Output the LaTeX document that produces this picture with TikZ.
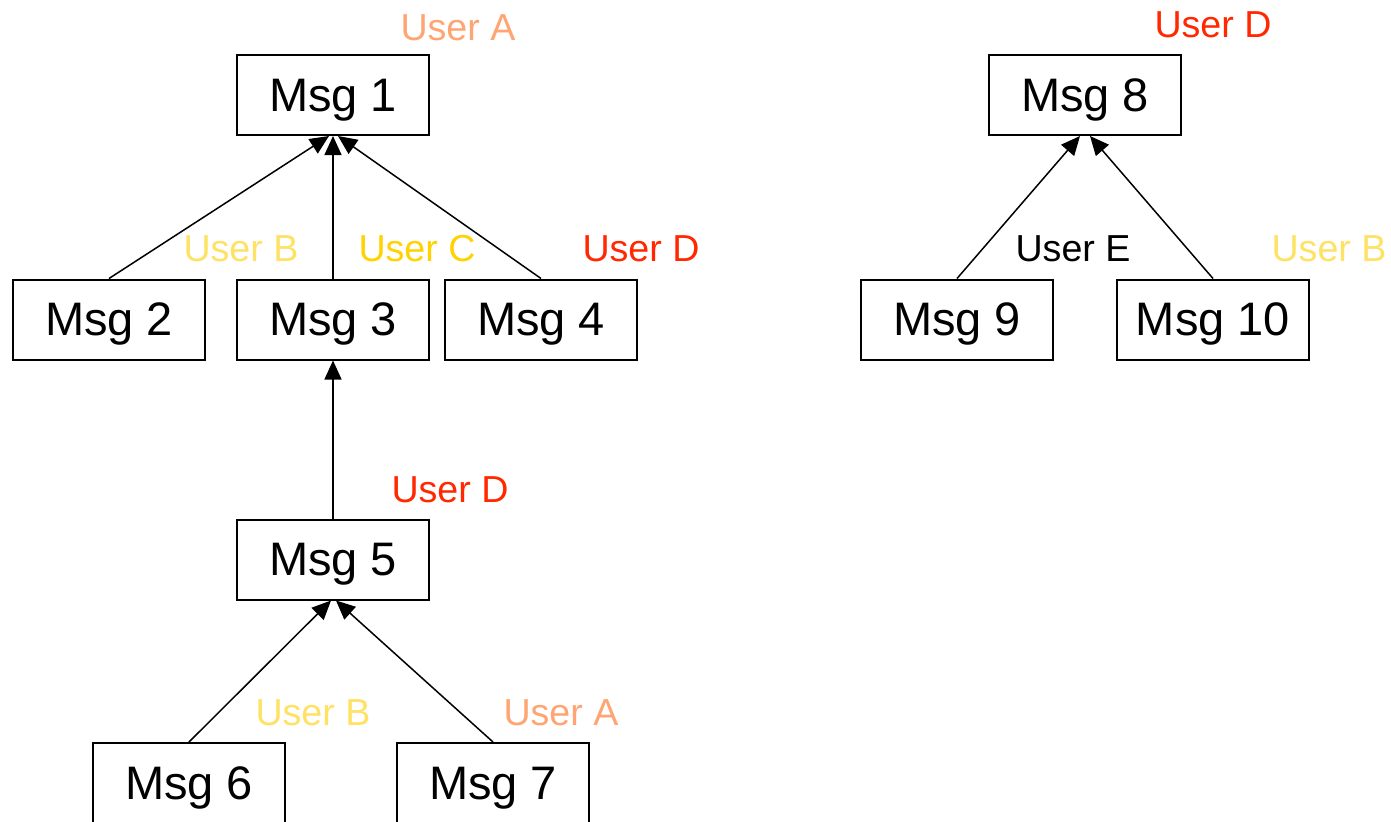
\documentclass[tikz,border=0pt]{standalone}
\usepackage{fontspec}
\setmainfont{Liberation Sans}
\usetikzlibrary{arrows.meta}
\definecolor{userA}{RGB}{255,165,115}
\definecolor{userB}{RGB}{255,225,100}
\definecolor{userC}{RGB}{255,210,0}
\definecolor{userD}{RGB}{255,40,0}
\begin{document}
\begin{tikzpicture}[x=0.5pt,y=-0.5pt,
  msgbox/.style={draw,line width=1pt,rectangle,minimum width=96pt,minimum height=40pt,
    inner sep=0pt,text depth=0pt,font=\fontsize{23.5pt}{28pt}\selectfont},
  user/.style={inner sep=0pt,font=\fontsize{18.8pt}{22pt}\selectfont},
  link/.style={line width=0.75pt,-{Triangle[length=9.5pt,width=8.5pt]}}]
\clip (0,0) rectangle (1391,821);
\useasboundingbox (0,0) rectangle (1391,821);

% message boxes
\node[msgbox] (m1) at (333,95) {Msg 1};
\node[msgbox] (m2) at (109,319.5) {Msg 2};
\node[msgbox] (m3) at (333,319.5) {Msg 3};
\node[msgbox] (m4) at (541,319.5) {Msg 4};
\node[msgbox] (m5) at (333,559.5) {Msg 5};
\node[msgbox] (m6) at (189,783) {Msg 6};
\node[msgbox] (m7) at (493,783) {Msg 7};
\node[msgbox] (m8) at (1085,95) {Msg 8};
\node[msgbox] (m9) at (957,319.5) {Msg 9};
\node[msgbox] (m10) at (1213,319.5) {Msg 10};

% author labels
\node[user,text=userA] (uA1) at (458,28) {User A};
\node[user,text=userB] (uB2) at (241,249) {User B};
\node[user,text=userC] (uC3) at (417,249) {User C};
\node[user,text=userD] (uD4) at (641,249) {User D};
\node[user,text=userD] (uD5) at (450,490) {User D};
\node[user,text=userB] (uB6) at (313,713) {User B};
\node[user,text=userA] (uA7) at (561,713) {User A};
\node[user,text=userD] (uD8) at (1213,25) {User D};
\node[user,text=black] (uE9) at (1073,249) {User E};
\node[user,text=userB] (uB10) at (1329,249) {User B};

% reply links
\draw[link] (m2.north) -- ([xshift=-2pt]m1.south);
\draw[link] (m3.north) -- (m1.south);
\draw[link] (m4.north) -- ([xshift=2.5pt]m1.south);
\draw[link] (m5.north) -- (m3.south);
\draw[link] (m6.north) -- ([xshift=-1pt]m5.south);
\draw[link] (m7.north) -- ([xshift=1.5pt]m5.south);
\draw[link] (m9.north) -- ([xshift=-2.5pt]m8.south);
\draw[link] (m10.north) -- ([xshift=2.5pt]m8.south);
\end{tikzpicture}
\end{document}
